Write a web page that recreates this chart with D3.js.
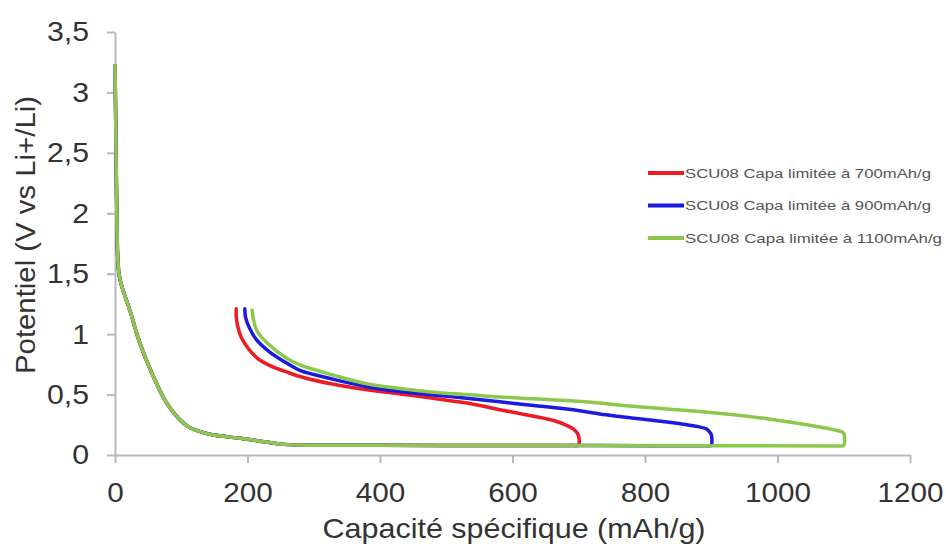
<!DOCTYPE html>
<html><head><meta charset="utf-8">
<script src="https://cdn.jsdelivr.net/npm/d3@7"></script>
<style>body{margin:0;background:#fff}svg{display:block}</style>
</head><body><svg id="c" width="946" height="544"></svg>
<script>
const xTicks = [0, 200, 400, 600, 800, 1000, 1200];
const yTicks = [0, 0.5, 1, 1.5, 2, 2.5, 3, 3.5];
const seriesNames = ["SCU08 Capa limitée à 700mAh/g", "SCU08 Capa limitée à 900mAh/g", "SCU08 Capa limitée à 1100mAh/g"];
const seriesColors = ["#ec1c24", "#1a1ae0", "#8cc84b"];

// discharge (lithiation) branch common to the three cells
const discharge = [[0,3.22],[1,2.8],[2,2.3],[3,1.9],[4,1.65],[6,1.5],[10,1.4],[16,1.3],[24,1.17],[33,1.0],[42,0.86],[50,0.75],[58,0.65],[68,0.53],[78,0.43],[90,0.34],[100,0.28],[112,0.23],[125,0.2],[145,0.17],[170,0.15],[200,0.13],[225,0.11],[250,0.09],[275,0.082],[400,0.08],[600,0.079]];
const red = [[690,0.078],[697,0.078],[700,0.082],[700,0.15],[698,0.18],[692,0.215],[680,0.25],[662,0.285],[632,0.32],[581,0.375],[531,0.43],[480,0.47],[430,0.505],[380,0.54],[330,0.585],[279,0.65],[260,0.685],[234,0.74],[215,0.8],[200,0.89],[190,0.98],[185,1.07],[183,1.15],[183,1.21]];
const blue = [[700,0.078],[800,0.077],[890,0.076],[897,0.076],[900,0.08],[900,0.17],[896,0.2],[893,0.215],[880,0.235],[858,0.255],[808,0.29],[757,0.32],[732,0.34],[682,0.38],[632,0.41],[581,0.44],[531,0.47],[480,0.496],[430,0.525],[380,0.565],[330,0.626],[279,0.7],[264,0.745],[234,0.85],[214,0.95],[203,1.05],[197,1.14],[196,1.21]];
const green = [[700,0.078],[900,0.076],[1090,0.075],[1097,0.075],[1100,0.079],[1100,0.18],[1095,0.195],[1084,0.21],[1044,0.25],[984,0.3],[930,0.335],[883,0.36],[800,0.395],[757,0.415],[732,0.43],[682,0.45],[632,0.465],[581,0.48],[531,0.5],[480,0.52],[430,0.55],[380,0.59],[330,0.66],[279,0.745],[259,0.8],[229,0.93],[214,1.03],[209,1.12],[207,1.2]];
const series = [discharge.concat(red), discharge.concat(blue), discharge.concat(green)];

const svg = d3.select("#c");
const x = d3.scaleLinear().domain([0, 1200]).range([115, 910]);
const y = d3.scaleLinear().domain([0, 3.5]).range([455, 32]);
const loc = d3.formatLocale({decimal: ",", thousands: "", grouping: [3], currency: ["", ""]});
const fy = loc.format("~g");

const font = "'Liberation Sans', Arial, sans-serif";
const xa = svg.append("g").attr("transform", "translate(0,455)")
  .call(d3.axisBottom(x).tickValues(xTicks).tickFormat(d3.format("d")).tickSize(8).tickSizeOuter(0).tickPadding(19));
const ya = svg.append("g").attr("transform", "translate(115,0)")
  .call(d3.axisLeft(y).tickValues(yTicks).tickFormat(fy).tickSize(8).tickSizeOuter(0).tickPadding(17));
[xa, ya].forEach(a => {
  a.selectAll("path, line").attr("stroke", "#b9b9b9").attr("stroke-width", 2);
  a.selectAll("text").attr("fill", "#333").style("font-family", font).style("font-size", "28px");
});
xa.selectAll(".tick text").attr("transform", "scale(1.06,1)");
ya.selectAll(".tick text").attr("x", -24).attr("transform", "scale(1.08,1)");

const line = d3.line().x(d => x(d[0])).y(d => y(d[1])).curve(d3.curveCatmullRom.alpha(0.5));
series.forEach((s, i) => {
  svg.append("path").datum(s).attr("d", line)
    .attr("fill", "none").attr("stroke", seriesColors[i]).attr("stroke-width", 3.5)
    .attr("stroke-linejoin", "round").attr("stroke-linecap", "round");
});

// legend
const lg = svg.append("g");
const legendWidths = [246, 246, 257];
seriesNames.forEach((n, i) => {
  const yy = 173 + i * 32.5;
  lg.append("line").attr("x1", 648).attr("x2", 684).attr("y1", yy).attr("y2", yy)
    .attr("stroke", seriesColors[i]).attr("stroke-width", 4);
  lg.append("text").attr("x", 685).attr("y", yy + 4.5).text(n)
    .attr("fill", "#555").style("font-family", font).style("font-size", "13px")
    .attr("textLength", legendWidths[i]).attr("lengthAdjust", "spacingAndGlyphs");
});

svg.append("text").attr("x", 514).attr("y", 538).attr("text-anchor", "middle")
  .text("Capacité spécifique (mAh/g)").attr("fill", "#333")
  .style("font-family", font).style("font-size", "28px")
  .attr("textLength", 383).attr("lengthAdjust", "spacingAndGlyphs");
svg.append("text").attr("transform", "translate(35,235) rotate(-90)").attr("text-anchor", "middle")
  .text("Potentiel (V vs Li+/Li)").attr("fill", "#333")
  .style("font-family", font).style("font-size", "28px")
  .attr("textLength", 278).attr("lengthAdjust", "spacingAndGlyphs");
</script></body></html>
